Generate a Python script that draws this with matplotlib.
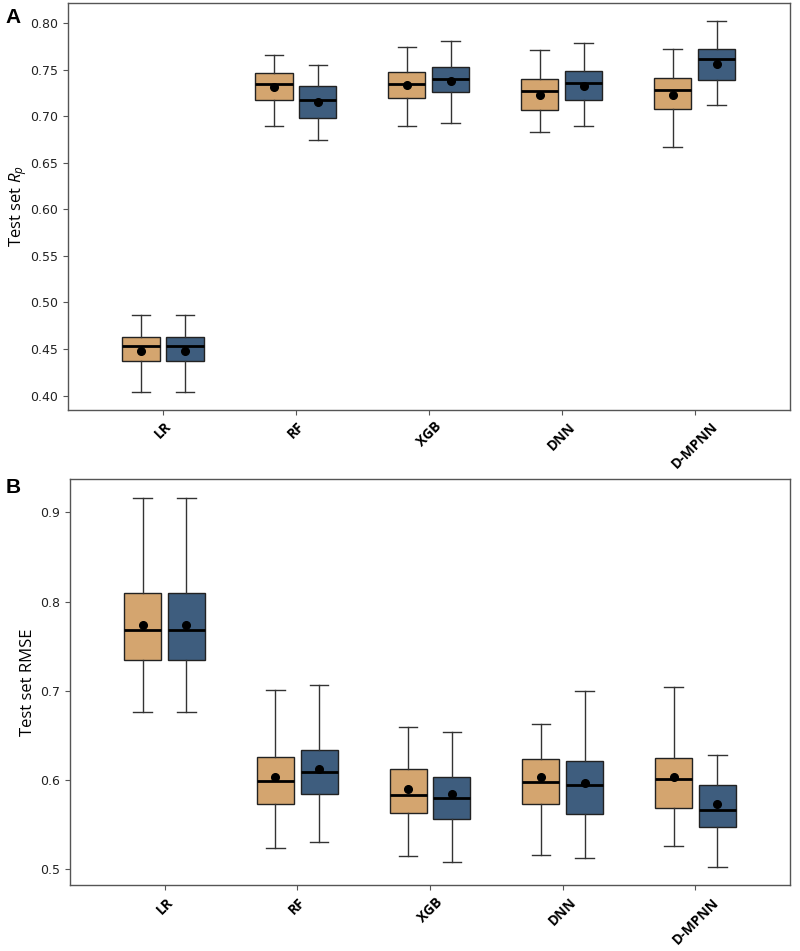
import matplotlib
matplotlib.use("Agg")
import matplotlib.pyplot as plt
import numpy as np

plt.rcParams["mathtext.fontset"] = "custom"
plt.rcParams["mathtext.rm"] = "Open Sans"
plt.rcParams["mathtext.it"] = "Open Sans:italic"

models = ["LR", "RF", "XGB", "DNN", "D-MPNN"]

# Panel A: test set Rp  (whislo, q1, med, q3, whishi, mean)
rp_tan = [
    [0.404, 0.437, 0.453, 0.463, 0.486, 0.448],
    [0.689, 0.717, 0.735, 0.746, 0.766, 0.731],
    [0.690, 0.720, 0.735, 0.748, 0.774, 0.734],
    [0.683, 0.707, 0.727, 0.740, 0.771, 0.723],
    [0.667, 0.708, 0.728, 0.741, 0.772, 0.723],
]
rp_blue = [
    [0.404, 0.437, 0.453, 0.463, 0.486, 0.448],
    [0.675, 0.698, 0.717, 0.733, 0.755, 0.715],
    [0.693, 0.726, 0.740, 0.753, 0.781, 0.738],
    [0.690, 0.717, 0.736, 0.749, 0.779, 0.733],
    [0.712, 0.739, 0.761, 0.772, 0.802, 0.756],
]

# Panel B: test set RMSE
rmse_tan = [
    [0.676, 0.735, 0.768, 0.810, 0.916, 0.774],
    [0.524, 0.573, 0.599, 0.626, 0.701, 0.603],
    [0.515, 0.563, 0.583, 0.613, 0.659, 0.590],
    [0.516, 0.573, 0.598, 0.624, 0.663, 0.603],
    [0.526, 0.569, 0.601, 0.625, 0.704, 0.603],
]
rmse_blue = [
    [0.676, 0.735, 0.768, 0.810, 0.916, 0.774],
    [0.531, 0.585, 0.609, 0.634, 0.706, 0.613],
    [0.508, 0.556, 0.580, 0.603, 0.654, 0.584],
    [0.513, 0.562, 0.594, 0.621, 0.700, 0.597],
    [0.503, 0.547, 0.567, 0.594, 0.628, 0.573],
]

TAN = "#D4A56F"
BLUE = "#3E5D7E"


def make_stats(rows):
    return [dict(whislo=r[0], q1=r[1], med=r[2], q3=r[3], whishi=r[4], mean=r[5], fliers=[])
            for r in rows]


def draw_panel(ax, tan_rows, blue_rows, ylabel, ylim, yticks, fmt, pad):
    x = np.arange(len(models))
    for rows, color, off in [(tan_rows, TAN, -0.165), (blue_rows, BLUE, 0.165)]:
        ax.bxp(make_stats(rows), positions=x + off, widths=0.28, patch_artist=True,
               showmeans=True, showfliers=False,
               boxprops=dict(facecolor=color, edgecolor="#222222", linewidth=1.0),
               medianprops=dict(color="black", linewidth=2.0),
               whiskerprops=dict(color="#333333", linewidth=1.0),
               capprops=dict(color="#333333", linewidth=1.0),
               meanprops=dict(marker="o", markerfacecolor="black", markeredgecolor="black",
                              markersize=5.5))
    ax.set_xlim(-0.715, 4.715)
    ax.set_ylim(*ylim)
    ax.set_xticks(x)
    ax.set_xticklabels(models, rotation=45, fontweight="bold", fontsize=10,
                       family="Open Sans")
    ax.set_yticks(yticks)
    ax.set_yticklabels([fmt.format(t) for t in yticks], fontsize=9, color="#222222")
    ax.set_ylabel(ylabel, fontsize=12, family="Open Sans", labelpad=pad)
    for s in ax.spines.values():
        s.set_color("#555555")
        s.set_linewidth(1.0)
    ax.tick_params(color="#555555", length=3.5)


fig = plt.figure(figsize=(8, 9.51), dpi=100)
axA = fig.add_axes([0.085, 0.569, 0.902, 0.428])
axB = fig.add_axes([0.087, 0.069, 0.901, 0.427])

draw_panel(axA, rp_tan, rp_blue, "Test set $R_p$", (0.3846, 0.8218),
           np.round(np.arange(0.40, 0.801, 0.05), 2), "{:.2f}", 1)
draw_panel(axB, rmse_tan, rmse_blue, "Test set RMSE", (0.4821, 0.9369),
           [0.5, 0.6, 0.7, 0.8, 0.9], "{:.1f}", 3)

fig.text(0.007, 0.992, "A", fontsize=15, fontweight="bold", family="Liberation Sans", va="top")
fig.text(0.007, 0.497, "B", fontsize=15, fontweight="bold", family="Liberation Sans", va="top")

fig.savefig("out.png", dpi=100)
